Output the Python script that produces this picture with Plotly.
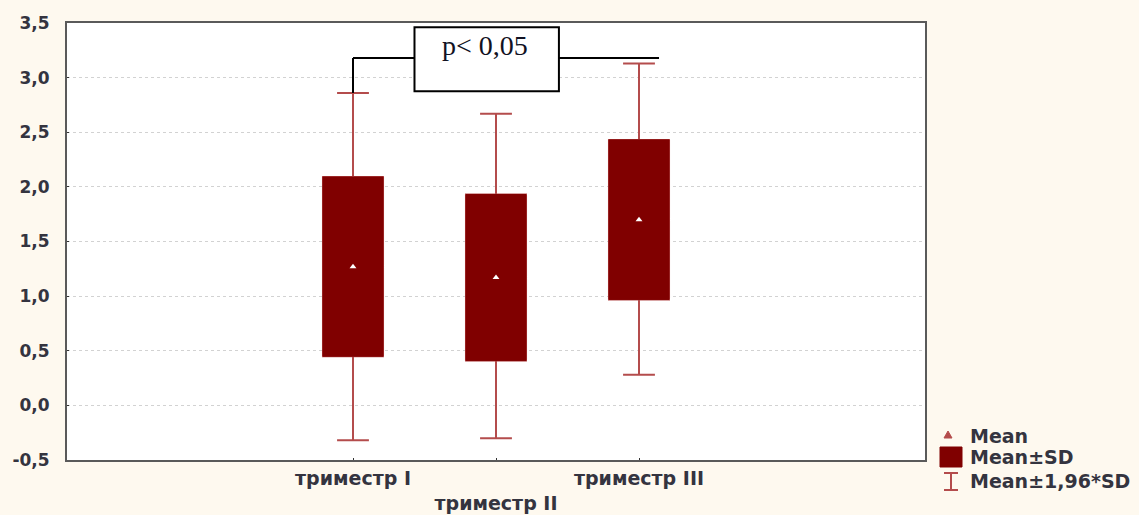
import plotly.graph_objects as go

# ---- data ----
categories = ["триместр I", "триместр II", "триместр III"]
tick_text = ["триместр I", "<br>триместр II", "триместр III"]
means = [1.27, 1.17, 1.70]
sd = [0.82, 0.76, 0.73]
ci_low = [-0.32, -0.30, 0.28]    # Mean-1.96*SD
ci_high = [2.86, 2.67, 3.13]     # Mean+1.96*SD
y_ticks = [-0.5, 0.0, 0.5, 1.0, 1.5, 2.0, 2.5, 3.0, 3.5]
y_tick_text = [f"{v:.1f}".replace(".", ",") for v in y_ticks]
legend_labels = ["Mean", "Mean±SD", "Mean±1,96*SD"]
p_text = "p< 0,05"

BOX = "#800000"
WHISK = "#B44C4C"
BG = "#FEF9EF"
TXT = "#34343F"
FONT = "DejaVu Sans, Verdana, sans-serif"

q1 = [m - s for m, s in zip(means, sd)]
q3 = [m + s for m, s in zip(means, sd)]

fig = go.Figure()

# whiskers (Mean±1.96*SD)
fig.add_trace(go.Box(
    x=categories, q1=q1, q3=q3, median=means,
    lowerfence=ci_low, upperfence=ci_high,
    width=0.42, whiskerwidth=0.53,
    fillcolor="rgba(0,0,0,0)", line=dict(color=WHISK, width=2),
    showlegend=False, hoverinfo="skip",
))
# boxes (Mean±SD)
fig.add_trace(go.Box(
    x=categories, q1=q1, q3=q3, median=means,
    lowerfence=q1, upperfence=q3,
    width=0.42, whiskerwidth=0,
    fillcolor=BOX, line=dict(color=BOX, width=1),
    showlegend=False,
))
# means
fig.add_trace(go.Scatter(
    x=categories, y=means, mode="markers",
    marker=dict(symbol="triangle-up", size=6, color="white"),
    showlegend=False,
))

L, R, T, B = 67, 214, 23, 55
W, H = 1139, 515
pw, ph = W - L - R, H - T - B


def px(xp):
    return (xp - L) / pw


def py(yp):
    return (H - B - yp) / ph


shapes = []
# significance bracket (data coords; x in category index units)
line_k = dict(color="black", width=2)
shapes.append(dict(type="line", xref="x", yref="y", x0=0, x1=0, y0=ci_high[0], y1=3.18, line=line_k))
shapes.append(dict(type="line", xref="x", yref="y", x0=0, x1=0.43, y0=3.18, y1=3.18, line=line_k))
shapes.append(dict(type="line", xref="x", yref="y", x0=1.44, x1=2.14, y0=3.18, y1=3.18, line=line_k))
shapes.append(dict(type="rect", xref="x", yref="y", x0=0.43, x1=1.44, y0=2.875, y1=3.46,
                   line=line_k, fillcolor="white"))

# manual legend
shapes.append(dict(type="path", xref="paper", yref="paper",
                   path=f"M {px(944)} {py(438)} L {px(952)} {py(438)} L {px(948)} {py(431)} Z",
                   fillcolor=WHISK, line=dict(color=WHISK, width=1)))
shapes.append(dict(type="rect", xref="paper", yref="paper",
                   x0=px(940), x1=px(962), y0=py(467), y1=py(447),
                   fillcolor=BOX, line=dict(color=BOX, width=1)))
lw = dict(color=WHISK, width=2)
shapes.append(dict(type="line", xref="paper", yref="paper", x0=px(951), x1=px(951), y0=py(473), y1=py(490), line=lw))
shapes.append(dict(type="line", xref="paper", yref="paper", x0=px(944), x1=px(958), y0=py(473), y1=py(473), line=lw))
shapes.append(dict(type="line", xref="paper", yref="paper", x0=px(944), x1=px(958), y0=py(490), y1=py(490), line=lw))

annotations = [
    dict(x=0.92, y=3.29, xref="x", yref="y", text=p_text, showarrow=False,
         font=dict(family="Liberation Serif, Times New Roman, serif", size=28, color="#111122")),
]
for lab, yy in zip(legend_labels, [436, 457, 481]):
    annotations.append(dict(x=px(968), y=py(yy), xref="paper", yref="paper", text=lab,
                            showarrow=False, xanchor="left", yanchor="middle",
                            font=dict(family=FONT, size=19, color=TXT, weight="bold")))

fig.update_layout(
    width=W, height=H, autosize=False,
    margin=dict(l=L, r=R, t=T, b=B),
    paper_bgcolor=BG, plot_bgcolor="white",
    separators=", ",
    showlegend=False,
    shapes=shapes, annotations=annotations,
    xaxis=dict(
        type="category", range=[-2, 4], automargin=False,
        tickmode="array", tickvals=categories, ticktext=tick_text,
        showgrid=False, zeroline=False,
        showline=True, linecolor="#5a5a5a", linewidth=2, mirror=True,
        ticks="inside", ticklen=2, tickcolor="#333",
        tickfont=dict(family=FONT, size=19, color=TXT, weight="bold"),
    ),
    yaxis=dict(
        range=[-0.5, 3.5], automargin=False,
        tickmode="array", tickvals=y_ticks, ticktext=y_tick_text,
        showgrid=True, gridcolor="#d2d2d2", griddash="dot", gridwidth=1,
        zeroline=False,
        showline=True, linecolor="#5a5a5a", linewidth=2, mirror=True,
        ticks="inside", ticklen=2, tickcolor="#333",
        ticklabelstandoff=12,
        tickfont=dict(family=FONT, size=17, color=TXT, weight="bold"),
    ),
)

fig.write_html(
    "out.html",
    config={"displayModeBar": False},
    post_script="document.body.style.margin='0';document.body.style.background='#FEF9EF';",
)
